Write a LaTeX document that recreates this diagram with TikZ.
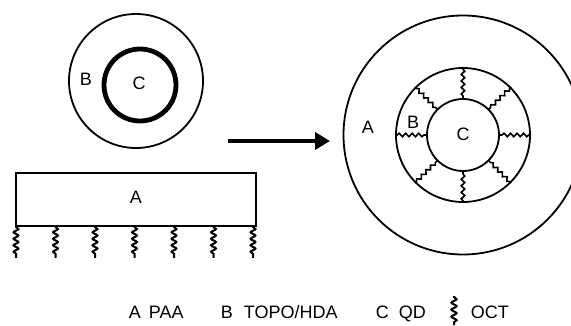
\documentclass[tikz,border=0pt]{standalone}
\usepackage{fontspec}
\setmainfont{Liberation Sans}
\usetikzlibrary{decorations.pathmorphing,arrows.meta}
\begin{document}
\begin{tikzpicture}[x=1pt,y=-1pt,line width=1.8pt,
  lbl/.style={font=\fontsize{18}{20}\selectfont,inner sep=0pt},
  leg/.style={lbl,anchor=base west},
  oct/.style={decorate,decoration={snake,segment length=6.5pt,amplitude=2.4pt,pre length=1pt,post length=1pt},line width=2pt},
  octs/.style={decorate,decoration={snake,segment length=6.5pt,amplitude=1.7pt,pre length=3pt,post length=2pt},line width=1.6pt}]
\useasboundingbox (0,0) rectangle (571,326);
\clip (0,0) rectangle (571,326);
% left particle
\coordinate (lc) at (136,81);
\draw (lc) circle[radius=67pt];
\draw[line width=4.8pt] (140,85) circle[radius=36pt];
\node[lbl] (lB) at (86,79) {B};
\node[lbl] (lC) at (139,83) {C};
% polymer strip
\draw (16,173) rectangle (256,226);
\node[lbl] (rA) at (136,197) {A};
\foreach \i in {0,...,6}
  \draw[oct] ({16+\i*39.5},226) -- ++(0,32);
% arrow
\coordinate (as) at (228,141);
\coordinate (ae) at (330,141);
\draw[line width=4pt,-{Triangle[length=15pt,width=17pt]}] (as) -- (ae);
% right particle
\coordinate (rc) at (463,135);
\draw (rc) circle[radius=119.5pt];
\draw (rc) circle[radius=67pt];
\draw (rc) circle[radius=36pt];
\foreach \a in {0,45,...,315}
  \draw[octs] ([shift={(\a:36pt)}]rc) -- ([shift={(\a:68pt)}]rc);
\node[lbl] (RA) at (368,127) {A};
\node[lbl] (RB) at (413,122) {B};
\node[lbl] (RC) at (463,134) {C};
% legend
\node[leg] (l1) at (128,318) {A};
\node[leg] (l2) at (148,318) {PAA};
\node[leg] (l3) at (220,318) {B};
\node[leg] (l4) at (243,318) {TOPO/HDA};
\node[leg] (l5) at (375,318) {C};
\node[leg] (l6) at (398,318) {QD};
\draw[oct,decoration={segment length=7pt,amplitude=2.6pt}] (454,296) -- (454,325);
\node[leg] (l7) at (470,318) {OCT};
\end{tikzpicture}
\end{document}
